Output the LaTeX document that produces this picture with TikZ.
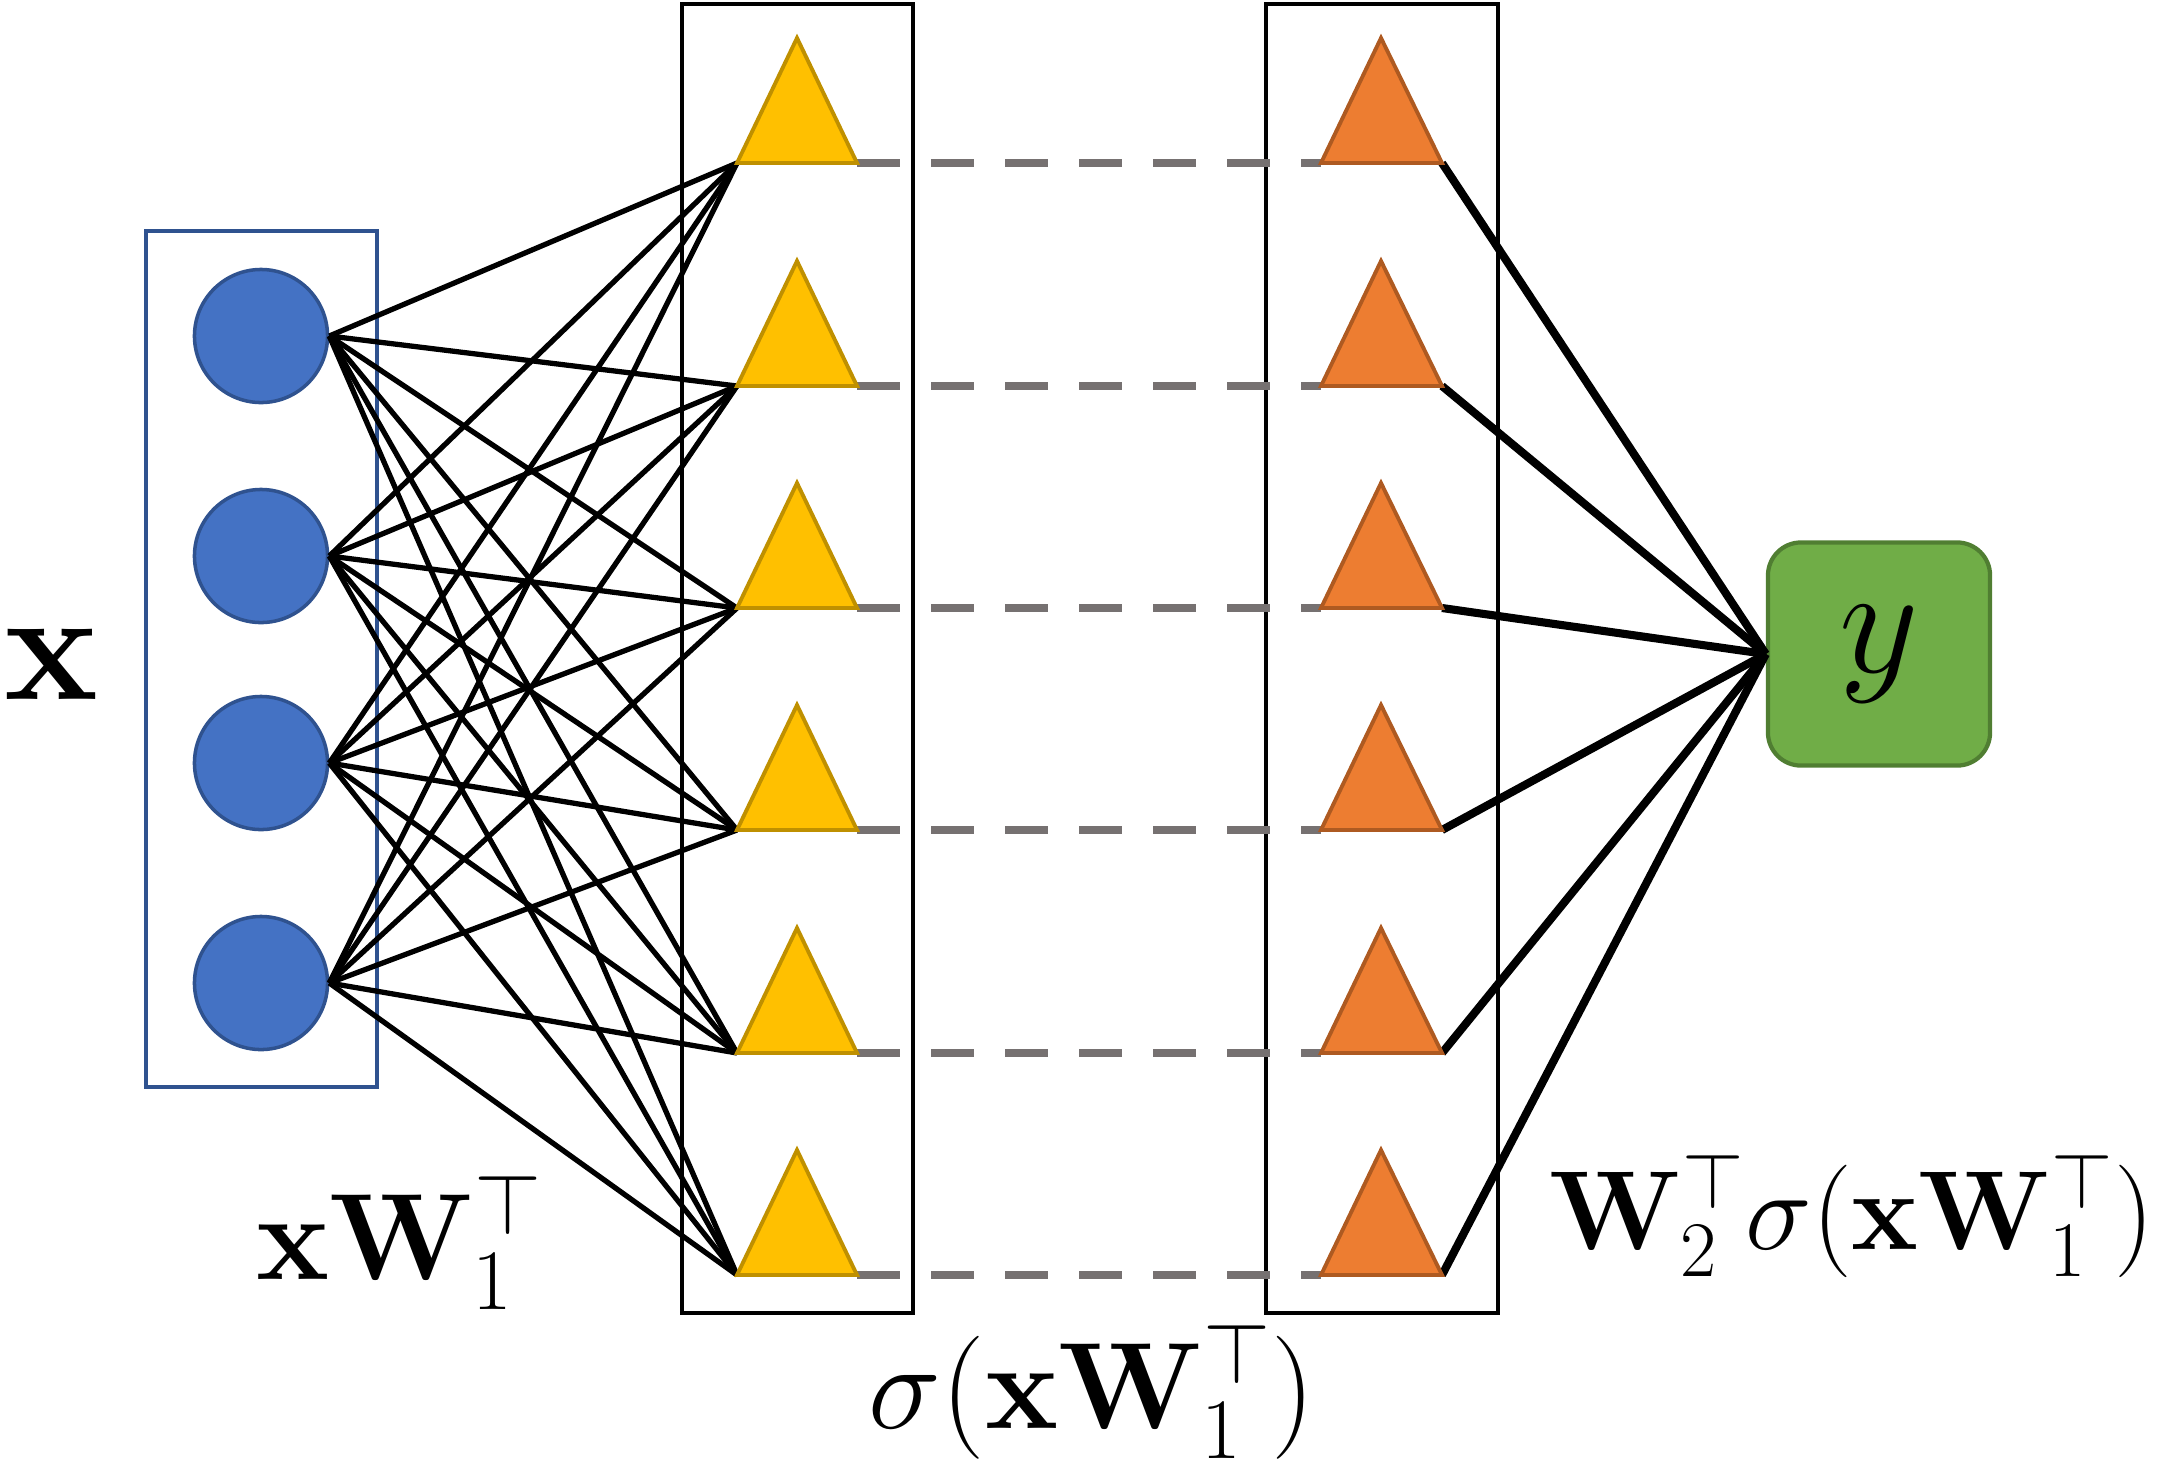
\RequirePackage{fix-cm}
\documentclass[tikz,border=0pt]{standalone}
\usepackage{amsmath}
\usepackage{amssymb}
\usepackage{tikz}

\definecolor{infill}{HTML}{4472C4}
\definecolor{inedge}{HTML}{2F528F}
\definecolor{hidfill}{HTML}{FFC000}
\definecolor{hidedge}{HTML}{BF9000}
\definecolor{actfill}{HTML}{ED7D31}
\definecolor{actedge}{HTML}{AE5A21}
\definecolor{outfill}{HTML}{70AD47}
\definecolor{outedge}{HTML}{507E32}
\definecolor{dashgray}{HTML}{767171}

\begin{document}
\begin{tikzpicture}[x=0.01cm, y=-0.01cm,
    unit/.style={circle, draw=inedge, fill=infill, line width=1pt,
                 minimum size=1.33cm, inner sep=0pt},
    outbox/.style={draw=outedge, fill=outfill, line width=1.2pt, rounded corners=0.33cm,
                   minimum width=2.22cm, minimum height=2.23cm, inner sep=0pt,
                   font=\fontsize{44}{50}\selectfont},
    layerbox/.style={draw, line width=1.2pt},
    wire/.style={line width=1.5pt},
    outwire/.style={line width=2.3pt},
    hidtri/.style={draw=hidedge, fill=hidfill, line width=1.1pt},
    acttri/.style={draw=actedge, fill=actfill, line width=1.1pt},
    skip/.style={draw=dashgray, line width=2.4pt, dash pattern=on 0.43cm off 0.31cm},
    biglabel/.style={font=\fontsize{45}{50}\selectfont, inner sep=0pt},
    label/.style={font=\fontsize{35}{40}\selectfont, inner sep=0pt, anchor=base}]
    \useasboundingbox (0,0) rectangle (2167,1475);
    \draw[draw=inedge, line width=1pt] (146,231) rectangle (377,1087);
    \draw[layerbox] (682,4) rectangle (913,1313);
    \draw[layerbox] (1266,4) rectangle (1498,1313);
    \foreach \i/\yy in {1/336,2/556,3/763,4/983}
        \node[unit] (x\i) at (261,\yy) {};
    \foreach \j/\yy in {1/163,2/386,3/608,4/830,5/1053,6/1275}{
        \coordinate (al\j) at (737,\yy);
        \coordinate (ar\j) at (857,\yy);
        \coordinate (bl\j) at (1321,\yy);
        \coordinate (br\j) at (1442,\yy);
    }
    \node[outbox] (y) at (1879,654) {$y$};
    \foreach \i in {1,...,4}
        \foreach \j in {1,...,6}
            \draw[wire] (x\i.east) -- (al\j);
    \foreach \j in {1,...,6}
        \draw[outwire] (br\j) -- (y.west);
    \foreach \j in {1,...,6}{
        \draw[skip] (ar\j) -- (bl\j);
        \draw[hidtri] (al\j) -- (ar\j) -- ++(-60,-125) -- cycle;
        \draw[acttri] (bl\j) -- (br\j) -- ++(-61,-125) -- cycle;
    }
    \node[biglabel] (xlab) at (51,664) {$\mathbf{x}$};
    \node[label] (hlab) at (400,1279) {$\mathbf{x}\mathbf{W}_1^\top$};
    \node[label] (slab) at (1092,1428) {$\sigma(\mathbf{x}\mathbf{W}_1^\top)$};
    \node[label, font=\fontsize{32}{38}\selectfont] (olab) at (1852,1249)
        {$\mathbf{W}_2^\top\sigma(\mathbf{x}\mathbf{W}_1^\top)$};
\end{tikzpicture}
\end{document}
